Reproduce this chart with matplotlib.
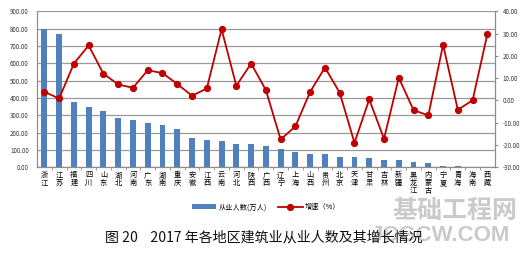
import matplotlib

matplotlib.use("Agg")
import matplotlib.pyplot as plt
from matplotlib.ticker import FormatStrFormatter, MultipleLocator

plt.rcParams["font.family"] = ["Noto Sans CJK SC", "DejaVu Sans"]

REGIONS = [
    "浙江", "江苏", "福建", "四川", "山东", "湖北", "河南", "广东", "湖南", "重庆",
    "安徽", "江西", "云南", "河北", "陕西", "广西", "辽宁", "上海", "山西", "贵州",
    "北京", "天津", "甘肃", "吉林", "新疆", "黑龙江", "内蒙古", "宁夏", "青海", "海南",
    "西藏",
]
EMPLOYED = [
    797, 771, 377, 350, 327, 286, 275, 258, 245, 221,
    167, 158, 150, 136, 135, 123, 104, 90, 75, 74,
    58, 57, 54, 42, 40, 31, 25, 6, 5, 3,
    1,
]
GROWTH = [
    3.9, 0.9, 16.6, 24.7, 12.0, 7.2, 5.7, 13.6, 12.3, 7.4,
    2.1, 5.4, 32.0, 6.6, 16.6, 4.7, -17.5, -11.6, 3.9, 14.8,
    3.5, -19.0, 0.5, -17.2, 10.2, -4.3, -6.7, 25.0, -4.2, 0.1,
    29.8,
]

BAR_LABEL = "从业人数(万人)"
LINE_LABEL = "增速（%）"
TITLE = "图 20    2017 年各地区建筑业从业人数及其增长情况"

BAR_COLOR = "#4F81BD"
LINE_COLOR = "#C00000"
GRID_COLOR = "#9a9a9a"
AXIS_COLOR = "#8c8c8c"
MARK_COLOR = "#bdbdbd"


def main() -> None:
    fig = plt.figure(figsize=(5.32, 2.59), dpi=100)
    ax = fig.add_axes([0.0695, 0.354, 0.8605, 0.602])
    ax2 = ax.twinx()

    x = list(range(len(REGIONS)))
    bars = ax.bar(x, EMPLOYED, width=0.4, color=BAR_COLOR, zorder=2, label=BAR_LABEL)
    (line,) = ax2.plot(
        x, GROWTH, color=LINE_COLOR, linewidth=1.3, marker="o", markersize=4.2,
        markerfacecolor=LINE_COLOR, markeredgecolor=LINE_COLOR, zorder=3, label=LINE_LABEL,
    )

    ax.set_xlim(-0.5, len(REGIONS) - 0.5)
    ax.set_ylim(0, 900)
    ax.yaxis.set_major_locator(MultipleLocator(100))
    ax.yaxis.set_major_formatter(FormatStrFormatter("%.2f"))
    ax2.set_ylim(-30, 40)
    ax2.yaxis.set_major_locator(MultipleLocator(10))
    ax2.yaxis.set_major_formatter(FormatStrFormatter("%.2f"))

    ax.grid(True, axis="y", color=GRID_COLOR, linewidth=0.9, zorder=0)
    ax.set_axisbelow(True)

    ax.set_xticks(x)
    ax.set_xticklabels(["\n".join(name) for name in REGIONS], fontsize=5.2, linespacing=0.95)
    ax.set_xticks([i + 0.5 for i in x[:-1]], minor=True)
    ax.tick_params(axis="x", which="major", length=0, pad=3)
    ax.tick_params(axis="x", which="minor", length=2.5, color=AXIS_COLOR)
    ax.tick_params(axis="y", labelsize=4.5, length=0, pad=6, colors="#333333")
    ax2.tick_params(axis="y", labelsize=4.5, length=2.5, pad=3, color=AXIS_COLOR, labelcolor="#333333")

    for a in (ax, ax2):
        a.spines["top"].set_visible(False)
        for side in ("left", "right", "bottom"):
            a.spines[side].set_color(AXIS_COLOR)
            a.spines[side].set_linewidth(0.8)

    # site watermark, drawn underneath the caption like in the source image
    fig.text(0.855, 0.185, "基础工程网", fontsize=18, color=MARK_COLOR, alpha=0.8,
             ha="center", va="center", weight="bold", zorder=0)
    fig.text(0.827, 0.089, "JCGCW.COM", fontsize=16, color=MARK_COLOR, alpha=0.8,
             ha="center", va="center", weight="bold", family=["Liberation Sans"], zorder=0)

    fig.legend(
        [bars, line], [BAR_LABEL, LINE_LABEL], loc="center", bbox_to_anchor=(0.5, 0.2),
        ncol=2, frameon=False, fontsize=5.2, handlelength=3.4, columnspacing=1.6,
        handletextpad=0.3,
    )

    fig.text(0.197, 0.083, TITLE, fontsize=10.1, color="#111111", va="center", ha="left",
             zorder=5)

    fig.savefig("out.png", dpi=100)
    plt.close(fig)


if __name__ == "__main__":
    main()
